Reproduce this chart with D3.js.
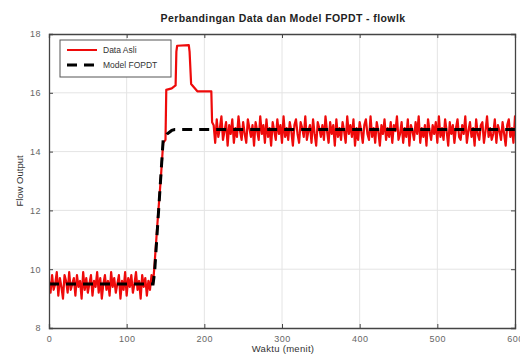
<!DOCTYPE html>
<html>
<head>
<meta charset="utf-8">
<script src="https://cdn.jsdelivr.net/npm/d3@7"></script>
<style>
  body { margin: 0; background: #fff; }
  text { font-family: "Liberation Sans", Arial, sans-serif; }
</style>
</head>
<body>
<svg id="chart"></svg>
<script>
var width = 520, height = 356;

// tick labels
var xTicks = [0, 100, 200, 300, 400, 500, 600];
var yTicks = [8, 10, 12, 14, 16, 18];

// sampling step of the noisy parts (menit)
var step = 2;

// Data Asli - before the step (t = 0 .. 134)
var dataAwal = [9.6, 9.2, 9.8, 9.3, 9.5, 9.9, 9.1, 9.7, 9.4, 9.0, 9.8, 9.6, 9.2, 9.9, 9.3, 9.5, 9.7,
  9.1, 9.8, 9.4, 9.6, 9.0, 9.9, 9.3, 9.7, 9.2, 9.5, 9.8, 9.1, 9.6, 9.4, 9.9, 9.2, 9.7, 9.0, 9.5,
  9.8, 9.3, 9.6, 9.1, 9.9, 9.4, 9.7, 9.2, 9.5, 9.8, 9.0, 9.6, 9.3, 9.9, 9.1, 9.7, 9.4, 9.8, 9.2,
  9.5, 9.9, 9.3, 9.6, 9.0, 9.8, 9.4, 9.7, 9.1, 9.6, 9.3, 9.8, 9.5];

// Data Asli - the step response (time, value)
var dataTransisi = [[136, 10.2], [140, 11.7], [144, 13.1], [147, 14.3], [150, 14.4], [151, 16.1],
  [158, 16.15], [163, 16.25], [164, 17.4], [165, 17.6], [180, 17.62], [181, 17.4], [183, 16.3],
  [191, 16.05], [209, 16.05], [210, 15.0]];

// Data Asli - steady state (t = 212 .. 600)
var dataAkhir = [14.9, 14.3, 15.1, 14.5, 14.8, 15.2, 14.4, 14.7, 15.0, 14.2, 14.9, 14.6, 15.1, 14.3,
  14.8, 14.5, 15.2, 14.7, 14.4, 15.0, 14.6, 14.3, 15.1, 14.8, 14.5, 14.9, 14.2, 15.0, 14.7, 14.4,
  15.2, 14.6, 14.9, 14.3, 15.1, 14.5, 14.8, 14.2, 15.0, 14.7, 14.4, 15.1, 14.6, 14.9, 14.3, 15.2,
  14.5, 14.8, 14.4, 15.0, 14.7, 14.2, 14.9, 15.1, 14.6, 14.3, 15.0, 14.8, 14.5, 15.2, 14.4, 14.7,
  14.9, 14.3, 15.1, 14.6, 14.2, 15.0, 14.8, 14.5, 14.9, 14.4, 15.2, 14.7, 14.3, 15.0, 14.6, 14.9,
  14.2, 15.1, 14.5, 14.8, 14.4, 15.0, 14.7, 14.3, 15.2, 14.6, 14.9, 14.5, 15.1, 14.2, 14.8, 14.4,
  15.0, 14.7, 14.3, 14.9, 15.1, 14.6, 14.4, 15.2, 14.5, 14.8, 14.3, 15.0, 14.7, 14.2, 14.9, 14.6,
  15.1, 14.4, 14.8, 14.5, 15.0, 14.3, 14.9, 14.7, 15.2, 14.4, 14.6, 15.0, 14.3, 14.8, 14.5, 15.1,
  14.2, 14.9, 14.7, 14.4, 15.0, 14.6, 15.2, 14.3, 14.8, 14.5, 14.9, 14.2, 15.1, 14.7, 14.4, 14.9,
  14.6, 15.0, 14.3, 15.2, 14.5, 14.8, 14.4, 15.1, 14.7, 14.2, 15.0, 14.6, 14.9, 14.3, 14.8, 15.1,
  14.5, 14.4, 14.9, 14.6, 15.2, 14.3, 14.7, 15.0, 14.5, 14.8, 14.2, 15.1, 14.6, 14.4, 14.9, 15.0,
  14.3, 14.7, 15.2, 14.5, 14.8, 14.4, 14.6, 15.1, 14.3, 14.9, 14.7, 14.4, 15.0, 14.6, 14.2, 14.9,
  15.1, 14.5, 14.8, 14.3, 15.2, 14.7, 14.4, 15.0, 14.6, 14.9, 14.5, 15.1];

// Model FOPDT (time, value)
var modelFOPDT = [[0, 9.5], [134, 9.5], [136, 9.9], [147, 14.4], [152, 14.6], [158, 14.72],
  [162, 14.75], [600, 14.75]];

// build the full Data Asli series
var dataAsli = [];
dataAwal.forEach(function(v, i) { dataAsli.push([i * step, v]); });
dataTransisi.forEach(function(d) { dataAsli.push(d); });
dataAkhir.forEach(function(v, i) { dataAsli.push([212 + i * step, v]); });

var svg = d3.select("#chart")
    .attr("width", width)
    .attr("height", height);

var x = d3.scaleLinear().domain([0, 600]).range([49, 515]);
var y = d3.scaleLinear().domain([8, 18]).range([328, 34]);

// grid
svg.append("g").selectAll("line")
  .data(xTicks.slice(1, -1))
  .enter().append("line")
    .attr("x1", d => x(d)).attr("x2", d => x(d))
    .attr("y1", y(18)).attr("y2", y(8))
    .attr("stroke", "#e4e4e4").attr("stroke-width", 1);
svg.append("g").selectAll("line")
  .data(yTicks.slice(1, -1))
  .enter().append("line")
    .attr("x1", x(0)).attr("x2", x(600))
    .attr("y1", d => y(d)).attr("y2", d => y(d))
    .attr("stroke", "#e4e4e4").attr("stroke-width", 1);

// clip for the lines
svg.append("clipPath").attr("id", "plotClip")
  .append("rect")
    .attr("x", x(0)).attr("y", y(18))
    .attr("width", x(600) - x(0)).attr("height", y(8) - y(18));

var line = d3.line().x(d => x(d[0])).y(d => y(d[1]));

svg.append("path")
    .datum(dataAsli)
    .attr("clip-path", "url(#plotClip)")
    .attr("fill", "none")
    .attr("stroke", "#ee0a0a")
    .attr("stroke-width", 2.2)
    .attr("stroke-linejoin", "round")
    .attr("d", line);

svg.append("path")
    .datum(modelFOPDT)
    .attr("clip-path", "url(#plotClip)")
    .attr("fill", "none")
    .attr("stroke", "#000")
    .attr("stroke-width", 3)
    .attr("stroke-dasharray", "10,7")
    .attr("d", line);

// axes (MATLAB style box, ticks inside)
var axisColor = "#444";
var xAxis = d3.axisBottom(x).tickValues(xTicks).tickSize(-4).tickPadding(8);
var gx = svg.append("g").attr("transform", "translate(0," + y(8) + ")").call(xAxis);
var xTop = d3.axisTop(x).tickValues(xTicks).tickSize(-4).tickFormat("");
var gxt = svg.append("g").attr("transform", "translate(0," + y(18) + ")").call(xTop);
var yAxis = d3.axisLeft(y).tickValues(yTicks).tickSize(-4).tickPadding(8);
var gy = svg.append("g").attr("transform", "translate(" + x(0) + ",0)").call(yAxis);
var yRight = d3.axisRight(y).tickValues(yTicks).tickSize(-4).tickFormat("");
var gyr = svg.append("g").attr("transform", "translate(" + x(600) + ",0)").call(yRight);

[gx, gxt, gy, gyr].forEach(function(g) {
  g.select(".domain").attr("stroke", axisColor).attr("stroke-width", 1.3);
  g.selectAll(".tick line").attr("stroke", axisColor);
  g.selectAll(".tick text")
    .attr("fill", "#666")
    .style("font-size", "9px")
    .style("letter-spacing", "0.5px")
    .style("font-family", "'Liberation Sans', Arial, sans-serif");
});

// title and axis labels
svg.append("text")
    .attr("x", 283).attr("y", 22)
    .attr("text-anchor", "middle")
    .style("font-size", "10.5px")
    .style("letter-spacing", "0.4px")
    .style("font-weight", "bold")
    .attr("fill", "#222")
    .text("Perbandingan Data dan Model FOPDT - flowlk");

svg.append("text")
    .attr("x", 283).attr("y", 352)
    .attr("text-anchor", "middle")
    .style("font-size", "9.5px")
    .style("letter-spacing", "0.3px")
    .attr("fill", "#333")
    .text("Waktu (menit)");

svg.append("text")
    .attr("transform", "translate(23," + 181 + ") rotate(-90)")
    .attr("text-anchor", "middle")
    .style("font-size", "9.5px")
    .attr("fill", "#333")
    .text("Flow Output");

// legend
var legend = svg.append("g").attr("transform", "translate(60,40)");
legend.append("rect")
    .attr("width", 111).attr("height", 37)
    .attr("fill", "#fff")
    .attr("stroke", "#555").attr("stroke-width", 1);
legend.append("line")
    .attr("x1", 7).attr("x2", 37).attr("y1", 10).attr("y2", 10)
    .attr("stroke", "#ee0a0a").attr("stroke-width", 2);
legend.append("line")
    .attr("x1", 7).attr("x2", 37).attr("y1", 25).attr("y2", 25)
    .attr("stroke", "#000").attr("stroke-width", 3)
    .attr("stroke-dasharray", "10,7");
legend.append("text")
    .attr("x", 43).attr("y", 13)
    .style("font-size", "8.5px").attr("fill", "#333")
    .text("Data Asli");
legend.append("text")
    .attr("x", 43).attr("y", 28)
    .style("font-size", "8.5px").attr("fill", "#333")
    .text("Model FOPDT");
</script>
</body>
</html>
